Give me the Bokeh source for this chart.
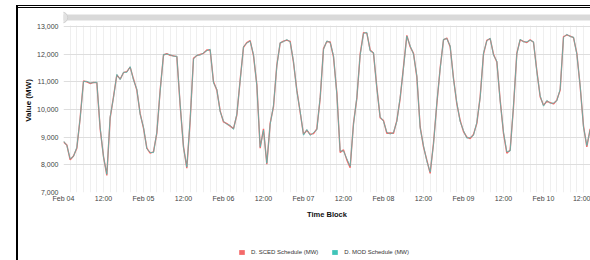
import pandas as pd
from bokeh.plotting import figure
from bokeh.layouts import row, column
from bokeh.models import (FixedTicker, CustomJSTickFormatter, NumeralTickFormatter, Legend,
                          LegendItem, ColumnDataSource, Range1d, Spacer, Div)
from bokeh.embed import file_html
from bokeh.resources import INLINE

# ---------------- data (hourly, from Feb 04 00:00) ----------------
start = pd.Timestamp("2025-02-04 00:00")
hours = list(range(159))

sced = [
    8830, 8720, 8180, 8320, 8600, 9700, 11030, 11000, 10940, 10980, 10970, 9300,
    8300, 7620, 9700, 10460, 11250, 11100, 11330, 11370, 11530, 11100, 10700, 9850,
    9330, 8600, 8420, 8470, 9150, 10700, 11970, 12020, 11960, 11940, 11910, 10150,
    8650, 7880, 9600, 11850, 11950, 11990, 12030, 12150, 12150, 11000, 10700, 9950,
    9550, 9490, 9400, 9310, 9800, 11070, 12250, 12420, 12490, 11950, 10900, 8600,
    9300, 8020, 9500, 10100, 11600, 12400, 12470, 12510, 12460, 11700, 10700, 9900,
    9100, 9250, 9100, 9130, 9300, 10400, 12200, 12460, 12440, 11900, 10600, 8450,
    8540, 8180, 7900, 9500, 10400, 12000, 12780, 12760, 12150, 12030, 10800, 9700,
    9600, 9140, 9150, 9140, 9600, 10400, 11540, 12680, 12270, 12030, 11180, 9370,
    8650, 8170, 7690, 8780, 10200, 11500, 12520, 12580, 12270, 11130, 10200, 9600,
    9200, 9000, 8950, 9100, 9500, 10460, 12000, 12500, 12560, 12000, 11720, 10340,
    9140, 8420, 8540, 10100, 12030, 12520, 12460, 12420, 12520, 12430, 11400, 10460,
    10150, 10300, 10250, 10200, 10340, 10700, 12630, 12700, 12650, 12600, 12030, 10830,
    9400, 8650, 9300,
]

mod = [
    8860, 8700, 8220, 8300, 8640, 9680, 11010, 11020, 10960, 10970, 10990, 9350,
    8280, 7660, 9740, 10430, 11270, 11080, 11350, 11340, 11550, 11060, 10740, 9820,
    9360, 8580, 8450, 8440, 9180, 10660, 11990, 12000, 11980, 11920, 11930, 10190,
    8620, 7920, 9640, 11820, 11970, 11960, 12050, 12120, 12180, 10960, 10730, 9920,
    9580, 9460, 9430, 9280, 9840, 11040, 12270, 12400, 12470, 11990, 10860, 8650,
    9250, 8060, 9460, 10150, 11570, 12420, 12450, 12530, 12440, 11740, 10660, 9940,
    9070, 9280, 9060, 9170, 9260, 10440, 12170, 12480, 12420, 11950, 10550, 8500,
    8500, 8220, 7950, 9460, 10440, 11960, 12750, 12790, 12110, 12060, 10760, 9740,
    9570, 9180, 9110, 9170, 9570, 10440, 11500, 12650, 12300, 12000, 11220, 9330,
    8690, 8130, 7740, 8740, 10240, 11460, 12540, 12560, 12300, 11090, 10240, 9560,
    9240, 8960, 8990, 9060, 9540, 10420, 12040, 12480, 12580, 11960, 11750, 10300,
    9180, 8470, 8500, 10140, 12000, 12540, 12440, 12450, 12500, 12450, 11360, 10500,
    10120, 10330, 10220, 10240, 10310, 10740, 12600, 12720, 12630, 12620, 12000, 10870,
    9360, 8700, 9260,
]

y_ticks = [7000, 8000, 9000, 10000, 11000, 12000, 13000]
series_names = ["D. SCED Schedule (MW)", "D. MOD Schedule (MW)"]
RED = "#f46a6a"
TEAL = "#3fc4b8"

# ---------------- main figure ----------------
MS_H = 3600 * 1000
t0 = start.value // 10**6
x_end = t0 + 158.1 * MS_H
times = [start + pd.Timedelta(hours=h) for h in hours]

p = figure(width=572, height=220, x_axis_type="datetime", output_backend="svg",
           toolbar_location=None, x_range=Range1d(t0, x_end), y_range=Range1d(7000, 13650.6),
           min_border_left=45, min_border_right=0, min_border_top=0, min_border_bottom=36)
p.outline_line_color = None
p.background_fill_color = "white"
p.border_fill_color = "white"

major = [t0 + h * MS_H for h in range(0, 160, 12)]
minor = [t0 + h * MS_H for h in range(0, 160, 2)]
xt = FixedTicker(ticks=major, minor_ticks=minor)
p.xaxis.ticker = xt
p.xgrid.ticker = xt
p.xaxis.formatter = CustomJSTickFormatter(code="""
const d = new Date(tick);
const h = d.getUTCHours();
const mon = ["Jan","Feb","Mar","Apr","May","Jun","Jul","Aug","Sep","Oct","Nov","Dec"][d.getUTCMonth()];
if (h === 0) return mon + " " + String(d.getUTCDate()).padStart(2, "0");
return String(h).padStart(2, "0") + ":00";
""")
yt = FixedTicker(ticks=y_ticks, minor_ticks=[])
p.yaxis.ticker = yt
p.ygrid.ticker = yt
p.yaxis.formatter = NumeralTickFormatter(format="0,0")

p.xgrid.grid_line_color = "#efefef"
p.xgrid.minor_grid_line_color = "#efefef"
p.ygrid.grid_line_color = "#dedede"

for ax in (p.xaxis[0], p.yaxis[0]):
    ax.axis_line_color = None
    ax.major_tick_line_color = None
    ax.minor_tick_line_color = None
    ax.major_tick_out = 0
    ax.major_tick_in = 0
    ax.major_label_text_font = "Liberation Sans"
    ax.major_label_text_font_size = "7px"
    ax.major_label_text_color = "#444444"
    ax.axis_label_text_font = "Liberation Sans"
    ax.axis_label_text_font_style = "bold"
    ax.axis_label_text_color = "#111111"

p.xaxis.major_label_standoff = -2
p.yaxis.major_label_standoff = 5
p.xaxis.axis_label = "Time Block"
p.xaxis.axis_label_text_font_size = "7.5px"
p.xaxis.axis_label_standoff = 5
p.yaxis.axis_label = "Value (MW)"
p.yaxis.axis_label_text_font_size = "8px"
p.yaxis.axis_label_standoff = 1

# cover above 13,000 and the navigator bar
p.quad(left=[t0 - 20 * MS_H], right=[x_end + 20 * MS_H], bottom=[13040], top=[14000],
       fill_color="white", line_color=None)
p.quad(left=[t0 - 20 * MS_H], right=[x_end + 20 * MS_H], bottom=[13217], top=[13434],
       fill_color="#d9d9d9", line_color=None)
p.scatter(x=[t0 - 0.4 * MS_H], y=[13325], size=11, fill_color="#e2e2e2",
          line_color="#cfcfcf", line_width=1)

# series
src = ColumnDataSource(dict(t=times, sced=sced, mod=mod))
p.line("t", "sced", source=src, color=RED, line_width=1.4)
p.line("t", "mod", source=src, color=TEAL, line_width=1.0, line_alpha=0.72)

# ---------------- legend strip ----------------
p2 = figure(width=572, height=32, output_backend="svg", toolbar_location=None,
            x_axis_location=None, y_axis_location=None, x_range=Range1d(0, 1),
            y_range=Range1d(0, 1), min_border=0)
p2.grid.visible = False
p2.outline_line_color = None
p2.border_fill_color = "white"
# swatch renderers sit outside the visible range; only their legend glyphs show
off = ColumnDataSource(dict(l=[5], r=[6], b=[5], t=[6]))
sw1 = p2.quad(left="l", right="r", bottom="b", top="t", source=off, fill_color=RED, line_color=None)
sw2 = p2.quad(left="l", right="r", bottom="b", top="t", source=off, fill_color=TEAL, line_color=None)
legend = Legend(items=[LegendItem(label=series_names[0], renderers=[sw1]),
                       LegendItem(label=series_names[1], renderers=[sw2])],
                location=(175, 4), orientation="horizontal")
legend.border_line_color = None
legend.background_fill_alpha = 0
legend.padding = 0
legend.margin = 0
legend.spacing = 13
legend.label_standoff = 6
legend.glyph_width = 7
legend.glyph_height = 6
legend.label_height = 8
legend.label_text_font = "Liberation Sans"
legend.label_text_font_size = "6px"
legend.label_text_color = "#333333"
p2.add_layout(legend)

# ---------------- container frame lines (fixed overlay) & layout ----------------
frame_html = (
    '<div style="position:fixed;left:16px;top:5px;width:2px;height:255px;background:#000;z-index:9999;"></div>'
    '<div style="position:fixed;left:16px;top:5px;width:574px;height:1px;background:#000;z-index:9999;"></div>'
    '<div style="position:fixed;left:16px;top:7px;width:574px;height:1px;background:#000;z-index:9999;"></div>'
)
frame_lines = Div(text=frame_html, width=0, height=0, margin=0)

layout = column(frame_lines,
                Spacer(width=590, height=8),
                row(Spacer(width=18, height=252), column(p, p2)))

open("out.html", "w").write(file_html(layout, INLINE))
